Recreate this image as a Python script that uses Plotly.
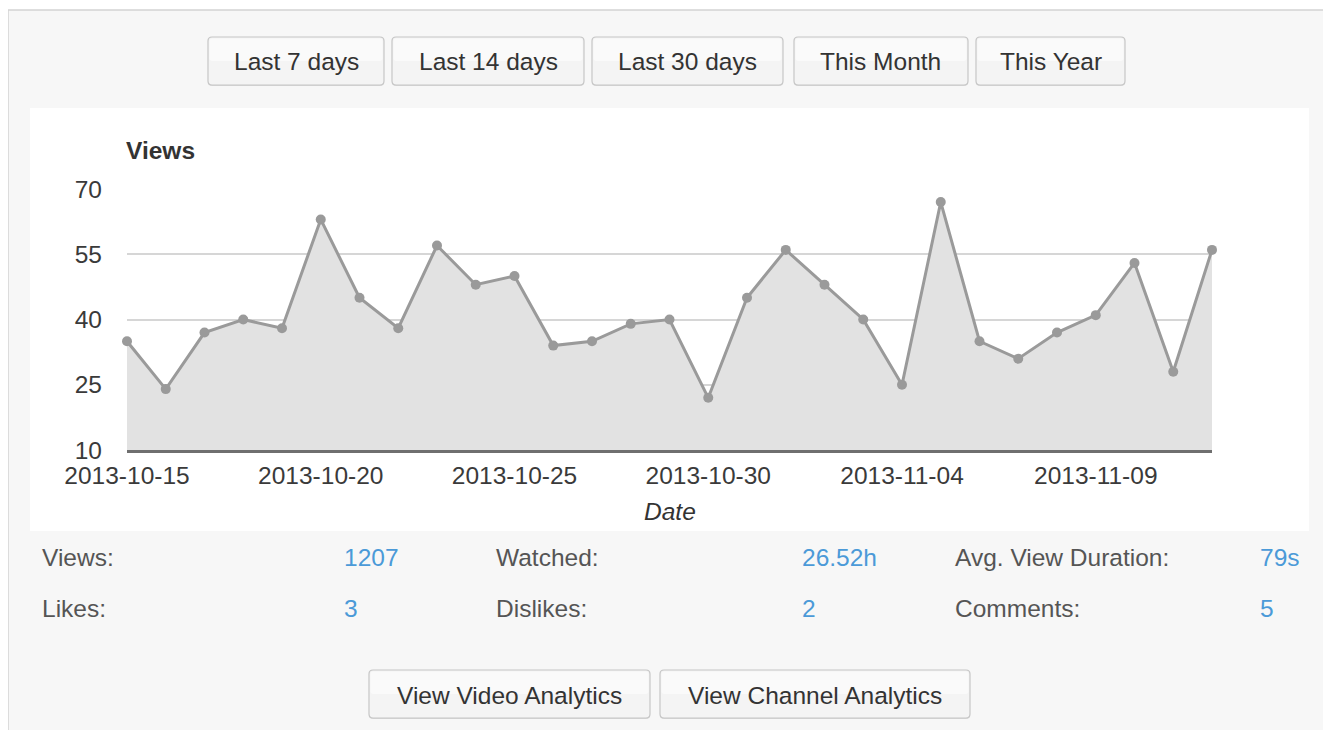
import plotly.graph_objects as go
import pandas as pd

# ---- data ----
dates = pd.date_range("2013-10-15", "2013-11-12", freq="D").strftime("%Y-%m-%d").tolist()
views = [35, 24, 37, 40, 38, 63, 45, 38, 57, 48, 50, 34, 35, 39, 40,
         22, 45, 56, 48, 40, 25, 67, 35, 31, 37, 41, 53, 28, 56]
y_ticks = [10, 25, 40, 55, 70]
x_ticks = ["2013-10-15", "2013-10-20", "2013-10-25", "2013-10-30", "2013-11-04", "2013-11-09"]
range_buttons = ["Last 7 days", "Last 14 days", "Last 30 days", "This Month", "This Year"]
stat_labels = [["Views:", "Watched:", "Avg. View Duration:"], ["Likes:", "Dislikes:", "Comments:"]]
stat_values = [["1207", "26.52h", "79s"], ["3", "2", "5"]]
bottom_buttons = ["View Video Analytics", "View Channel Analytics"]

# page body has an 8px margin: the figure sits at (8, 8) in the window
OFF = 8
W, H = 1331 - OFF, 730 - OFF
FONT = "Liberation Sans, Arial, Helvetica, sans-serif"
FS = 24.5


def px(x):
    return (x - OFF) / W


def py(y):
    return 1 - (y - OFF) / H


def rrect(x0, y0, x1, y1, r=4):
    rx, ry = r / W, r / H
    X0, X1 = px(x0), px(x1)
    Y0, Y1 = py(y0), py(y1)  # Y0 top (larger), Y1 bottom
    return (f"M {X0+rx},{Y0} L {X1-rx},{Y0} Q {X1},{Y0} {X1},{Y0-ry} "
            f"L {X1},{Y1+ry} Q {X1},{Y1} {X1-rx},{Y1} L {X0+rx},{Y1} "
            f"Q {X0},{Y1} {X0},{Y1+ry} L {X0},{Y0-ry} Q {X0},{Y0} {X0+rx},{Y0} Z")


shapes = []
annotations = []

# page panel
shapes.append(dict(type="rect", xref="paper", yref="paper", x0=px(8), x1=px(1329), y0=py(740), y1=py(10),
                   fillcolor="#f7f7f7", line=dict(color="#d4d4d4", width=1.5), layer="below"))
# white chart box
shapes.append(dict(type="rect", xref="paper", yref="paper", x0=px(30), x1=px(1309), y0=py(531), y1=py(108),
                   fillcolor="#ffffff", line=dict(width=0), layer="below"))


def add_button(x0, x1, y0, y1, label):
    shapes.append(dict(type="path", xref="paper", yref="paper", path=rrect(x0, y0, x1, y1 + 1),
                       fillcolor="#d9d9d9", line=dict(width=0), layer="below"))
    shapes.append(dict(type="path", xref="paper", yref="paper", path=rrect(x0, y0, x1, y1),
                       fillcolor="#f4f4f4", line=dict(color="#c6c6c6", width=1.2), layer="below"))
    shapes.append(dict(type="path", xref="paper", yref="paper", path=rrect(x0 + 1.5, y0 + 1.5, x1 - 1.5, (y0 + y1) / 2, 3),
                       fillcolor="#fafafa", line=dict(width=0), layer="below"))
    annotations.append(dict(x=px((x0 + x1) / 2), y=py((y0 + y1) / 2 + 1), xref="paper", yref="paper",
                            text=label, showarrow=False, xanchor="center", yanchor="middle",
                            font=dict(family=FONT, size=FS, color="#333333")))


top_btn_x = [(208, 384), (392, 584), (592, 783), (794, 968), (976, 1125)]
for (a, b), lab in zip(top_btn_x, range_buttons):
    add_button(a, b, 37, 85, lab)

bot_btn_x = [(369, 650), (660, 970)]
for (a, b), lab in zip(bot_btn_x, bottom_buttons):
    add_button(a, b, 670, 718, lab)

# stats
label_x = [40, 494, 953]
value_x = [342, 800, 1258]
row_y = [557, 608]
for r in range(2):
    for c in range(3):
        annotations.append(dict(x=px(label_x[c]), y=py(row_y[r]), xref="paper", yref="paper",
                                text=stat_labels[r][c], showarrow=False, xanchor="left", yanchor="middle",
                                font=dict(family=FONT, size=FS, color="#555555")))
        annotations.append(dict(x=px(value_x[c]), y=py(row_y[r]), xref="paper", yref="paper",
                                text=stat_values[r][c], showarrow=False, xanchor="left", yanchor="middle",
                                font=dict(family=FONT, size=FS, color="#4b9ad8")))

# chart titles
annotations.append(dict(x=px(124), y=py(150), xref="paper", yref="paper", text="<b>Views</b>",
                        showarrow=False, xanchor="left", yanchor="middle",
                        font=dict(family=FONT, size=FS, color="#333333")))
annotations.append(dict(x=px(669.5), y=py(511), xref="paper", yref="paper", text="<i>Date</i>",
                        showarrow=False, xanchor="center", yanchor="middle",
                        font=dict(family=FONT, size=FS, color="#333333")))

fig = go.Figure()
fig.add_trace(go.Scatter(
    x=dates, y=views, mode="lines+markers",
    fill="tozeroy", fillcolor="#e2e2e2",
    line=dict(color="#9a9a9a", width=3),
    marker=dict(color="#9a9a9a", size=10),
    cliponaxis=False, hoverinfo="x+y", showlegend=False,
))

fig.update_layout(
    template="none",
    width=W, height=H, autosize=False,
    margin=dict(l=0, r=0, t=0, b=0, pad=0, autoexpand=False),
    paper_bgcolor="#ffffff", plot_bgcolor="rgba(0,0,0,0)",
    shapes=shapes, annotations=annotations,
    xaxis=dict(domain=[px(127), px(1212)], range=[dates[0], dates[-1]], type="date",
               tickvals=x_ticks, tickformat="%Y-%m-%d", showgrid=False, zeroline=False,
               showline=True, linecolor="#6f6f6f", linewidth=2.5, ticks="", automargin=False,
               tickfont=dict(family=FONT, size=FS, color="#3a3a3a"), ticklabelstandoff=2),
    yaxis=dict(domain=[py(450), py(189)], range=[10, 70], tickvals=y_ticks,
               showgrid=True, gridcolor="#d6d6d6", gridwidth=1.5, zeroline=False,
               showline=False, ticks="", ticklabelstandoff=24, automargin=False,
               tickfont=dict(family=FONT, size=FS, color="#3a3a3a")),
)

fig.write_html("out.html")
